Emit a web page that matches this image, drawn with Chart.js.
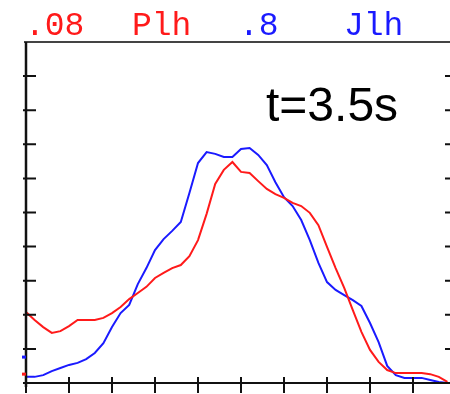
<!DOCTYPE html>
<html>
<head>
<meta charset="utf-8">
<script src="https://cdn.jsdelivr.net/npm/chart.js@4"></script>
<style>
  html, body { margin: 0; padding: 0; background: #fff; }
  #wrap { width: 450px; height: 394px; position: relative; overflow: hidden; }
</style>
</head>
<body>
<div id="wrap"><canvas id="chart" width="450" height="394"></canvas></div>
<script>
// sample positions along the x axis (tick units)
const xs = [
  0, 0.2, 0.4, 0.6, 0.8, 1.0, 1.2, 1.4, 1.6, 1.8,
  2.0, 2.2, 2.4, 2.6, 2.8, 3.0, 3.2, 3.4, 3.6, 3.8,
  4.0, 4.2, 4.4, 4.6, 4.8, 5.0, 5.2, 5.4, 5.6, 5.8,
  6.0, 6.2, 6.4, 6.6, 6.8, 7.0, 7.2, 7.4, 7.6, 7.8,
  8.0, 8.2, 8.4, 8.6, 8.8, 9.0, 9.2, 9.4, 9.6, 9.8
];

// Plh (red)
const plh = [
  2.08, 1.85, 1.64, 1.47, 1.52, 1.67, 1.85, 1.85, 1.85, 1.91,
  2.05, 2.23, 2.46, 2.64, 2.82, 3.08, 3.23, 3.37, 3.46, 3.72,
  4.19, 4.96, 5.84, 6.25, 6.48, 6.19, 6.16, 5.92, 5.69, 5.54,
  5.43, 5.28, 5.19, 4.99, 4.63, 3.99, 3.37, 2.79, 2.14, 1.50,
  0.97, 0.62, 0.38, 0.29, 0.29, 0.29, 0.29, 0.26, 0.18, 0.03
];

// Jlh (blue)
const jlh = [
  0.18, 0.18, 0.23, 0.35, 0.44, 0.53, 0.59, 0.70, 0.88, 1.17,
  1.64, 2.05, 2.29, 2.90, 3.37, 3.90, 4.22, 4.46, 4.72, 5.57,
  6.45, 6.77, 6.72, 6.63, 6.63, 6.86, 6.89, 6.69, 6.39, 5.89,
  5.45, 5.19, 4.78, 4.19, 3.52, 2.96, 2.73, 2.58, 2.43, 2.26,
  1.76, 1.20, 0.50, 0.23, 0.15, 0.15, 0.15, 0.09, 0.03, 0.00
];

// header labels: scale factor and name for each trace
const scaleLabels = [".08", ".8"];
const nameLabels = ["Plh", "Jlh"];
const colors = ["#ff1a1a", "#1a1aff"];
// baseline offset marks on the left axis
const offsets = [0.26, 0.76];

const xTicks = [0, 1, 2, 3, 4, 5, 6, 7, 8, 9, 10];
const yTicks = [0, 1, 2, 3, 4, 5, 6, 7, 8, 9, 10];

const timeLabel = "t=3.5s";

const toPoints = (vals) => vals.map((v, i) => ({ x: xs[i], y: v }));

const frame = {
  id: "frame",
  afterDatasetsDraw(chart) {
    const { ctx, chartArea: a, scales: { x, y } } = chart;
    ctx.save();

    // top border
    ctx.strokeStyle = "#444";
    ctx.lineWidth = 2;
    ctx.beginPath();
    ctx.moveTo(24, a.top);
    ctx.lineTo(chart.width, a.top);
    ctx.stroke();

    ctx.strokeStyle = "#111";
    // left axis
    ctx.lineWidth = 2.5;
    ctx.beginPath();
    ctx.moveTo(a.left, a.top);
    ctx.lineTo(a.left, a.bottom + 4);
    ctx.stroke();
    // bottom axis
    ctx.lineWidth = 2;
    ctx.beginPath();
    ctx.moveTo(a.left, a.bottom);
    ctx.lineTo(chart.width, a.bottom);
    ctx.stroke();

    // y ticks: left side and right side
    ctx.lineWidth = 2;
    yTicks.forEach((t) => {
      if (t === 10) return;
      const py = y.getPixelForValue(t);
      ctx.beginPath();
      ctx.moveTo(a.left - 3, py);
      ctx.lineTo(a.left + 10, py);
      ctx.moveTo(a.right - 5, py);
      ctx.lineTo(a.right, py);
      ctx.stroke();
    });

    // x ticks
    xTicks.forEach((t) => {
      const px = x.getPixelForValue(t);
      if (px > chart.width) return;
      ctx.beginPath();
      ctx.moveTo(px, a.bottom - 6);
      ctx.lineTo(px, a.bottom + 10);
      ctx.stroke();
    });

    // offset marks next to the left axis
    offsets.forEach((v, i) => {
      ctx.fillStyle = colors[i];
      ctx.fillRect(a.left - 4, y.getPixelForValue(v) - 1.5, 4, 3);
    });

    // header
    ctx.font = "33px 'Liberation Mono', monospace";
    ctx.textBaseline = "alphabetic";
    const headX = [[25, 132], [239, 344]];
    scaleLabels.forEach((s, i) => {
      ctx.fillStyle = colors[i];
      ctx.fillText(s, headX[i][0], 35);
      ctx.fillText(nameLabels[i], headX[i][1], 35);
    });

    // time stamp
    ctx.fillStyle = "#000";
    ctx.font = "48px 'Liberation Sans', Arial, sans-serif";
    ctx.fillText(timeLabel, 266, 121);

    ctx.restore();
  }
};

const ctx = document.getElementById("chart").getContext("2d");

new Chart(ctx, {
  type: "line",
  data: {
    datasets: [
      {
        label: nameLabels[0],
        data: toPoints(plh),
        borderColor: colors[0],
        borderWidth: 2,
        pointRadius: 0,
        tension: 0,
      },
      {
        label: nameLabels[1],
        data: toPoints(jlh),
        borderColor: colors[1],
        borderWidth: 2,
        pointRadius: 0,
        tension: 0,
      },
    ],
  },
  options: {
    responsive: false,
    animation: false,
    layout: { padding: { left: 26, top: 42, right: 0, bottom: 11 } },
    plugins: {
      legend: { display: false },
      tooltip: { enabled: false },
    },
    scales: {
      x: { type: "linear", min: 0, max: 9.86, display: false },
      y: { min: 0, max: 10, display: false },
    },
  },
  plugins: [frame],
});
</script>
</body>
</html>
